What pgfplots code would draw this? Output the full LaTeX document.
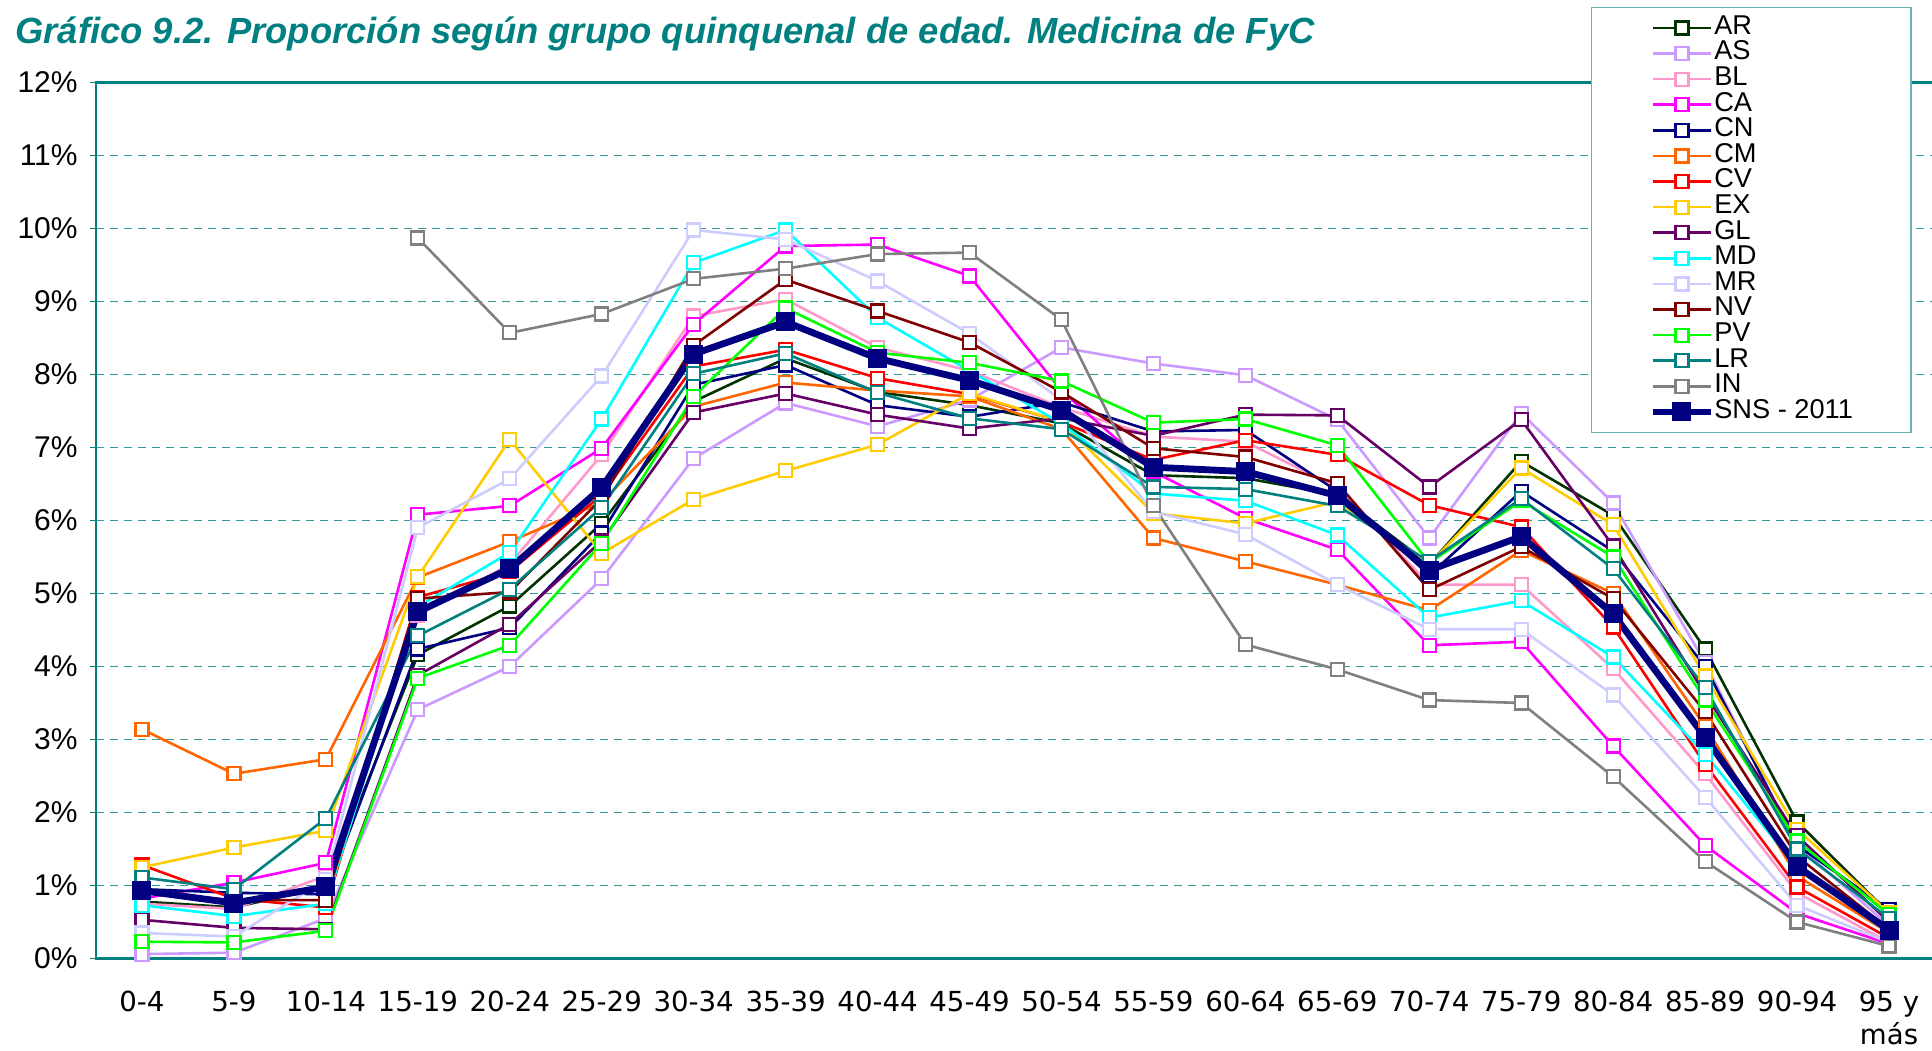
\documentclass[border=0pt]{standalone}
\usepackage{fontspec}
\setmainfont{Liberation Sans}
\newfontfamily\verd{DejaVu Sans}
\usepackage{pgfplots}
\pgfplotsset{compat=1.18}
\definecolor{cAR}{HTML}{003300}
\definecolor{cAS}{HTML}{CC99FF}
\definecolor{cBL}{HTML}{FF99CC}
\definecolor{cCA}{HTML}{FF00FF}
\definecolor{cCN}{HTML}{000080}
\definecolor{cCM}{HTML}{FF6600}
\definecolor{cCV}{HTML}{FF0000}
\definecolor{cEX}{HTML}{FFCC00}
\definecolor{cGL}{HTML}{660066}
\definecolor{cMD}{HTML}{00FFFF}
\definecolor{cMR}{HTML}{CCCCFF}
\definecolor{cNV}{HTML}{800000}
\definecolor{cPV}{HTML}{00FF00}
\definecolor{cLR}{HTML}{008080}
\definecolor{cIN}{HTML}{808080}
\definecolor{titlecol}{HTML}{008080}
\definecolor{axcol}{HTML}{008080}
\pgfplotsset{ser/.style={color=#1, line width=1.3pt, mark=square*, mark size=3.25pt,
  mark options={fill=white, draw=#1, line width=1.1pt, solid}}}
\begin{document}
\begin{tikzpicture}
\useasboundingbox (0,0) rectangle (966pt,525pt);
\node[anchor=base west, inner sep=0pt, font=\fontsize{18.2}{22}\selectfont\bfseries\itshape, text=titlecol] at (7.5pt,503pt) {Gráfico 9.2. Proporción según grupo quinquenal de edad. Medicina de FyC};
\begin{axis}[
  at={(48pt,45.75pt)}, anchor=south west,
  scale only axis, width=919.5pt, height=438pt,
  xmin=-0.5, xmax=19.5, ymin=0, ymax=12,
  clip=false,
  axis line style={draw=axcol, line width=1.2pt},
  xtick={0,...,19},
  xticklabels={0-4,5-9,10-14,15-19,20-24,25-29,30-34,35-39,40-44,45-49,50-54,55-59,60-64,65-69,70-74,75-79,80-84,85-89,90-94,{95 y\\más}},
  xticklabel style={font=\verd\fontsize{13.8}{16.8}\selectfont, align=center, inner sep=0pt, yshift=-13pt},
  x tick style={draw=none}, major x tick style={draw=none},
  ytick={0,...,12},
  yticklabels={0\%,1\%,2\%,3\%,4\%,5\%,6\%,7\%,8\%,9\%,10\%,11\%,12\%},
  yticklabel style={font=\fontsize{15}{18}\selectfont, inner sep=0pt, xshift=-6pt},
  ytick pos=left, tick align=outside, major tick length=3pt,
  y tick style={draw=axcol, line width=0.8pt},
  ymajorgrids,
  grid style={draw=axcol!80, line width=0.7pt, dash pattern=on 4pt off 3pt},
  legend style={at={(0.8129,1.0862)}, anchor=north west, draw=axcol!60, line width=0.6pt,
    fill=white, font=\fontsize{13.6}{15}\selectfont, inner xsep=29pt, inner ysep=3.8pt,
    nodes={inner sep=0pt, text height=9.6pt, text depth=3.2pt}, column sep=0pt},
  legend cell align=left,
  legend image code/.code={\draw[mark repeat=2,mark phase=2,#1] plot coordinates {(0pt,0pt) (14.5pt,0pt) (29pt,0pt)};},
]
\addplot[ser=cAR] coordinates {(0,0.78)(1,0.70)(2,0.98)(3,4.16)(4,4.83)(5,5.96)(6,7.63)(7,8.22)(8,7.76)(9,7.58)(10,7.33)(11,6.62)(12,6.58)(13,6.35)(14,5.40)(15,6.81)(16,6.07)(17,4.24)(18,1.87)(19,0.62)};
\addlegendentry{AR}
\addplot[ser=cAS] coordinates {(0,0.06)(1,0.08)(2,0.55)(3,3.41)(4,4.00)(5,5.20)(6,6.85)(7,7.61)(8,7.29)(9,7.65)(10,8.37)(11,8.15)(12,7.99)(13,7.38)(14,5.76)(15,7.47)(16,6.24)(17,4.05)(18,1.55)(19,0.45)};
\addlegendentry{AS}
\addplot[ser=cBL] coordinates {(0,0.75)(1,0.68)(2,1.13)(3,4.70)(4,5.40)(5,6.90)(6,8.80)(7,9.03)(8,8.37)(9,8.05)(10,7.55)(11,7.15)(12,7.08)(13,6.45)(14,5.12)(15,5.12)(16,3.97)(17,2.53)(18,0.90)(19,0.22)};
\addlegendentry{BL}
\addplot[ser=cCA] coordinates {(0,0.82)(1,1.04)(2,1.31)(3,6.08)(4,6.20)(5,6.99)(6,8.69)(7,9.76)(8,9.78)(9,9.35)(10,7.78)(11,6.67)(12,6.03)(13,5.60)(14,4.29)(15,4.34)(16,2.91)(17,1.55)(18,0.62)(19,0.20)};
\addlegendentry{CA}
\addplot[ser=cCN] coordinates {(0,0.95)(1,0.90)(2,0.88)(3,4.24)(4,4.53)(5,5.83)(6,7.86)(7,8.13)(8,7.58)(9,7.42)(10,7.62)(11,7.22)(12,7.24)(13,6.40)(14,5.25)(15,6.40)(16,5.58)(17,4.00)(18,1.55)(19,0.67)};
\addlegendentry{CN}
\addplot[ser=cCM] coordinates {(0,3.14)(1,2.53)(2,2.73)(3,5.22)(4,5.71)(5,6.25)(6,7.56)(7,7.89)(8,7.78)(9,7.70)(10,7.25)(11,5.76)(12,5.44)(13,5.12)(14,4.77)(15,5.59)(16,5.00)(17,3.18)(18,1.13)(19,0.35)};
\addlegendentry{CM}
\addplot[ser=cCV] coordinates {(0,1.28)(1,0.82)(2,0.70)(3,4.95)(4,5.30)(5,6.35)(6,8.11)(7,8.34)(8,7.95)(9,7.73)(10,7.35)(11,6.83)(12,7.10)(13,6.90)(14,6.21)(15,5.91)(16,4.54)(17,2.66)(18,0.98)(19,0.28)};
\addlegendentry{CV}
\addplot[ser=cEX] coordinates {(0,1.25)(1,1.52)(2,1.75)(3,5.23)(4,7.11)(5,5.55)(6,6.29)(7,6.68)(8,7.04)(9,7.74)(10,7.35)(11,6.10)(12,5.96)(13,6.26)(14,5.40)(15,6.72)(16,5.94)(17,3.87)(18,1.77)(19,0.63)};
\addlegendentry{EX}
\addplot[ser=cGL] coordinates {(0,0.53)(1,0.42)(2,0.40)(3,3.88)(4,4.58)(5,5.72)(6,7.48)(7,7.74)(8,7.45)(9,7.26)(10,7.40)(11,7.16)(12,7.45)(13,7.44)(14,6.46)(15,7.38)(16,5.65)(17,3.62)(18,1.68)(19,0.50)};
\addlegendentry{GL}
\addplot[ser=cMD] coordinates {(0,0.73)(1,0.58)(2,0.75)(3,4.82)(4,5.56)(5,7.39)(6,9.53)(7,9.98)(8,8.78)(9,8.05)(10,7.33)(11,6.37)(12,6.27)(13,5.80)(14,4.67)(15,4.90)(16,4.13)(17,2.80)(18,1.25)(19,0.35)};
\addlegendentry{MD}
\addplot[ser=cMR] coordinates {(0,0.35)(1,0.30)(2,1.08)(3,5.90)(4,6.57)(5,7.98)(6,9.98)(7,9.85)(8,9.28)(9,8.56)(10,7.65)(11,6.12)(12,5.81)(13,5.12)(14,4.51)(15,4.51)(16,3.61)(17,2.21)(18,0.73)(19,0.22)};
\addlegendentry{MR}
\addplot[ser=cNV] coordinates {(0,0.90)(1,0.80)(2,0.80)(3,4.93)(4,5.02)(5,6.30)(6,8.40)(7,9.30)(8,8.87)(9,8.44)(10,7.76)(11,6.99)(12,6.87)(13,6.51)(14,5.05)(15,5.64)(16,4.93)(17,3.38)(18,1.40)(19,0.40)};
\addlegendentry{NV}
\addplot[ser=cPV] coordinates {(0,0.23)(1,0.22)(2,0.38)(3,3.84)(4,4.29)(5,5.69)(6,7.70)(7,8.91)(8,8.30)(9,8.16)(10,7.91)(11,7.34)(12,7.39)(13,7.03)(14,5.42)(15,6.27)(16,5.50)(17,3.54)(18,1.61)(19,0.60)};
\addlegendentry{PV}
\addplot[ser=cLR] coordinates {(0,1.11)(1,0.95)(2,1.92)(3,4.42)(4,5.06)(5,6.18)(6,8.01)(7,8.29)(8,7.75)(9,7.40)(10,7.25)(11,6.46)(12,6.43)(13,6.20)(14,5.44)(15,6.30)(16,5.34)(17,3.71)(18,1.50)(19,0.55)};
\addlegendentry{LR}
\addplot[ser=cIN] coordinates {(3,9.87)(4,8.57)(5,8.83)(6,9.31)(7,9.45)(8,9.65)(9,9.67)(10,8.75)(11,6.20)(12,4.30)(13,3.96)(14,3.54)(15,3.50)(16,2.49)(17,1.33)(18,0.50)(19,0.17)};
\addlegendentry{IN}
\addplot[color=cCN, line width=3.4pt, mark=square*, mark size=4.5pt, mark options={fill=cCN, draw=cCN, line width=0.5pt, solid}] coordinates {(0,0.93)(1,0.76)(2,0.98)(3,4.75)(4,5.34)(5,6.45)(6,8.28)(7,8.72)(8,8.22)(9,7.92)(10,7.51)(11,6.73)(12,6.67)(13,6.34)(14,5.32)(15,5.78)(16,4.72)(17,3.03)(18,1.26)(19,0.39)};
\addlegendentry{SNS - 2011}
\end{axis}
\end{tikzpicture}
\end{document}
